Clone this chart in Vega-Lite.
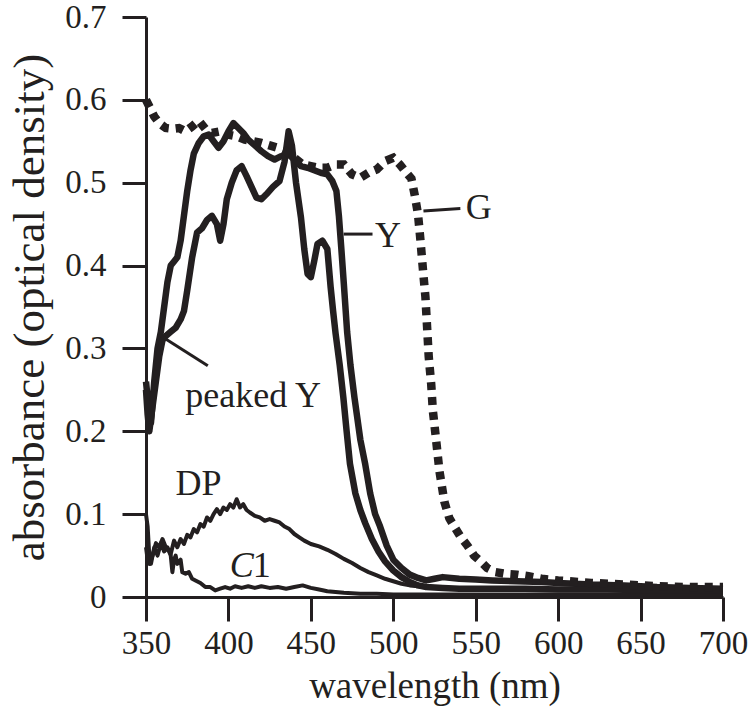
{
  "$schema": "https://vega.github.io/schema/vega-lite/v6.json",
  "width": 577,
  "height": 580,
  "autosize": {"type": "none"},
  "padding": {"left": 146, "top": 17, "right": 27, "bottom": 114},
  "background": "white",
  "datasets": {
    "spectra": [
      {"series": "G", "nm": 350, "a": 0.600}, {"series": "G", "nm": 352, "a": 0.592}, {"series": "G", "nm": 355, "a": 0.580}, {"series": "G", "nm": 358, "a": 0.572}, {"series": "G", "nm": 362, "a": 0.566}, {"series": "G", "nm": 366, "a": 0.565}, {"series": "G", "nm": 370, "a": 0.566}, {"series": "G", "nm": 374, "a": 0.562}, {"series": "G", "nm": 378, "a": 0.568}, {"series": "G", "nm": 382, "a": 0.575}, {"series": "G", "nm": 386, "a": 0.565}, {"series": "G", "nm": 390, "a": 0.560}, {"series": "G", "nm": 395, "a": 0.562}, {"series": "G", "nm": 400, "a": 0.558}, {"series": "G", "nm": 405, "a": 0.556}, {"series": "G", "nm": 410, "a": 0.552}, {"series": "G", "nm": 415, "a": 0.550}, {"series": "G", "nm": 420, "a": 0.548}, {"series": "G", "nm": 425, "a": 0.545}, {"series": "G", "nm": 430, "a": 0.542}, {"series": "G", "nm": 435, "a": 0.538}, {"series": "G", "nm": 440, "a": 0.530}, {"series": "G", "nm": 445, "a": 0.522}, {"series": "G", "nm": 450, "a": 0.520}, {"series": "G", "nm": 455, "a": 0.518}, {"series": "G", "nm": 460, "a": 0.518}, {"series": "G", "nm": 465, "a": 0.522}, {"series": "G", "nm": 470, "a": 0.522}, {"series": "G", "nm": 475, "a": 0.510}, {"series": "G", "nm": 480, "a": 0.506}, {"series": "G", "nm": 485, "a": 0.512}, {"series": "G", "nm": 490, "a": 0.516}, {"series": "G", "nm": 495, "a": 0.526}, {"series": "G", "nm": 500, "a": 0.530}, {"series": "G", "nm": 504, "a": 0.522}, {"series": "G", "nm": 508, "a": 0.512}, {"series": "G", "nm": 511, "a": 0.505}, {"series": "G", "nm": 513, "a": 0.485}, {"series": "G", "nm": 515, "a": 0.462}, {"series": "G", "nm": 516.5, "a": 0.430}, {"series": "G", "nm": 518, "a": 0.395}, {"series": "G", "nm": 519.5, "a": 0.362}, {"series": "G", "nm": 520.5, "a": 0.326}, {"series": "G", "nm": 521.5, "a": 0.290}, {"series": "G", "nm": 523, "a": 0.257}, {"series": "G", "nm": 524, "a": 0.225}, {"series": "G", "nm": 526, "a": 0.189}, {"series": "G", "nm": 528, "a": 0.152}, {"series": "G", "nm": 531, "a": 0.115}, {"series": "G", "nm": 534, "a": 0.095}, {"series": "G", "nm": 537, "a": 0.085}, {"series": "G", "nm": 541, "a": 0.072}, {"series": "G", "nm": 545, "a": 0.062}, {"series": "G", "nm": 549, "a": 0.050}, {"series": "G", "nm": 553, "a": 0.043}, {"series": "G", "nm": 557, "a": 0.035}, {"series": "G", "nm": 562, "a": 0.030}, {"series": "G", "nm": 568, "a": 0.028}, {"series": "G", "nm": 575, "a": 0.027}, {"series": "G", "nm": 582, "a": 0.025}, {"series": "G", "nm": 590, "a": 0.022}, {"series": "G", "nm": 600, "a": 0.020}, {"series": "G", "nm": 620, "a": 0.017}, {"series": "G", "nm": 640, "a": 0.015}, {"series": "G", "nm": 660, "a": 0.013}, {"series": "G", "nm": 680, "a": 0.012}, {"series": "G", "nm": 700, "a": 0.012},

      {"series": "Y", "nm": 350, "a": 0.26}, {"series": "Y", "nm": 351.5, "a": 0.23}, {"series": "Y", "nm": 353, "a": 0.21}, {"series": "Y", "nm": 355, "a": 0.26}, {"series": "Y", "nm": 357, "a": 0.30}, {"series": "Y", "nm": 359, "a": 0.32}, {"series": "Y", "nm": 361, "a": 0.35}, {"series": "Y", "nm": 363, "a": 0.38}, {"series": "Y", "nm": 365, "a": 0.40}, {"series": "Y", "nm": 367, "a": 0.405}, {"series": "Y", "nm": 369, "a": 0.41}, {"series": "Y", "nm": 371, "a": 0.43}, {"series": "Y", "nm": 373, "a": 0.46}, {"series": "Y", "nm": 375, "a": 0.49}, {"series": "Y", "nm": 377, "a": 0.515}, {"series": "Y", "nm": 379, "a": 0.535}, {"series": "Y", "nm": 382, "a": 0.548}, {"series": "Y", "nm": 385, "a": 0.556}, {"series": "Y", "nm": 388, "a": 0.558}, {"series": "Y", "nm": 391, "a": 0.55}, {"series": "Y", "nm": 394, "a": 0.542}, {"series": "Y", "nm": 397, "a": 0.55}, {"series": "Y", "nm": 400, "a": 0.562}, {"series": "Y", "nm": 403, "a": 0.572}, {"series": "Y", "nm": 406, "a": 0.566}, {"series": "Y", "nm": 409, "a": 0.56}, {"series": "Y", "nm": 412, "a": 0.552}, {"series": "Y", "nm": 416, "a": 0.545}, {"series": "Y", "nm": 420, "a": 0.538}, {"series": "Y", "nm": 424, "a": 0.532}, {"series": "Y", "nm": 428, "a": 0.528}, {"series": "Y", "nm": 432, "a": 0.532}, {"series": "Y", "nm": 436, "a": 0.535}, {"series": "Y", "nm": 440, "a": 0.528}, {"series": "Y", "nm": 444, "a": 0.52}, {"series": "Y", "nm": 448, "a": 0.518}, {"series": "Y", "nm": 452, "a": 0.515}, {"series": "Y", "nm": 456, "a": 0.512}, {"series": "Y", "nm": 460, "a": 0.51}, {"series": "Y", "nm": 463, "a": 0.502}, {"series": "Y", "nm": 465.5, "a": 0.49}, {"series": "Y", "nm": 467, "a": 0.46}, {"series": "Y", "nm": 468.5, "a": 0.42}, {"series": "Y", "nm": 470, "a": 0.378}, {"series": "Y", "nm": 472, "a": 0.32}, {"series": "Y", "nm": 474, "a": 0.28}, {"series": "Y", "nm": 476.5, "a": 0.24}, {"series": "Y", "nm": 480, "a": 0.19}, {"series": "Y", "nm": 483, "a": 0.16}, {"series": "Y", "nm": 486, "a": 0.125}, {"series": "Y", "nm": 489, "a": 0.10}, {"series": "Y", "nm": 492, "a": 0.085}, {"series": "Y", "nm": 496, "a": 0.062}, {"series": "Y", "nm": 500, "a": 0.045}, {"series": "Y", "nm": 505, "a": 0.035}, {"series": "Y", "nm": 510, "a": 0.027}, {"series": "Y", "nm": 515, "a": 0.023}, {"series": "Y", "nm": 520, "a": 0.02}, {"series": "Y", "nm": 525, "a": 0.022}, {"series": "Y", "nm": 530, "a": 0.024}, {"series": "Y", "nm": 540, "a": 0.022}, {"series": "Y", "nm": 550, "a": 0.021}, {"series": "Y", "nm": 560, "a": 0.020}, {"series": "Y", "nm": 575, "a": 0.019}, {"series": "Y", "nm": 590, "a": 0.018}, {"series": "Y", "nm": 600, "a": 0.017}, {"series": "Y", "nm": 620, "a": 0.015}, {"series": "Y", "nm": 640, "a": 0.014}, {"series": "Y", "nm": 660, "a": 0.012}, {"series": "Y", "nm": 680, "a": 0.011}, {"series": "Y", "nm": 700, "a": 0.010},

      {"series": "peaked Y", "nm": 350, "a": 0.25}, {"series": "peaked Y", "nm": 351, "a": 0.22}, {"series": "peaked Y", "nm": 352, "a": 0.20}, {"series": "peaked Y", "nm": 354, "a": 0.23}, {"series": "peaked Y", "nm": 356, "a": 0.26}, {"series": "peaked Y", "nm": 358, "a": 0.29}, {"series": "peaked Y", "nm": 360, "a": 0.31}, {"series": "peaked Y", "nm": 362, "a": 0.315}, {"series": "peaked Y", "nm": 365, "a": 0.32}, {"series": "peaked Y", "nm": 368, "a": 0.325}, {"series": "peaked Y", "nm": 371, "a": 0.335}, {"series": "peaked Y", "nm": 373, "a": 0.345}, {"series": "peaked Y", "nm": 375, "a": 0.37}, {"series": "peaked Y", "nm": 378, "a": 0.41}, {"series": "peaked Y", "nm": 381, "a": 0.44}, {"series": "peaked Y", "nm": 384, "a": 0.445}, {"series": "peaked Y", "nm": 387, "a": 0.455}, {"series": "peaked Y", "nm": 390, "a": 0.46}, {"series": "peaked Y", "nm": 393, "a": 0.45}, {"series": "peaked Y", "nm": 395, "a": 0.43}, {"series": "peaked Y", "nm": 397, "a": 0.45}, {"series": "peaked Y", "nm": 399, "a": 0.48}, {"series": "peaked Y", "nm": 402, "a": 0.50}, {"series": "peaked Y", "nm": 405, "a": 0.515}, {"series": "peaked Y", "nm": 408, "a": 0.52}, {"series": "peaked Y", "nm": 411, "a": 0.508}, {"series": "peaked Y", "nm": 414, "a": 0.495}, {"series": "peaked Y", "nm": 417, "a": 0.482}, {"series": "peaked Y", "nm": 420, "a": 0.48}, {"series": "peaked Y", "nm": 423, "a": 0.486}, {"series": "peaked Y", "nm": 427, "a": 0.495}, {"series": "peaked Y", "nm": 431, "a": 0.502}, {"series": "peaked Y", "nm": 434, "a": 0.525}, {"series": "peaked Y", "nm": 436.5, "a": 0.562}, {"series": "peaked Y", "nm": 438.5, "a": 0.545}, {"series": "peaked Y", "nm": 441, "a": 0.50}, {"series": "peaked Y", "nm": 444, "a": 0.458}, {"series": "peaked Y", "nm": 446, "a": 0.42}, {"series": "peaked Y", "nm": 448, "a": 0.39}, {"series": "peaked Y", "nm": 450, "a": 0.386}, {"series": "peaked Y", "nm": 452, "a": 0.405}, {"series": "peaked Y", "nm": 454, "a": 0.426}, {"series": "peaked Y", "nm": 457, "a": 0.43}, {"series": "peaked Y", "nm": 460, "a": 0.42}, {"series": "peaked Y", "nm": 462, "a": 0.374}, {"series": "peaked Y", "nm": 463.5, "a": 0.345}, {"series": "peaked Y", "nm": 465, "a": 0.318}, {"series": "peaked Y", "nm": 467.5, "a": 0.28}, {"series": "peaked Y", "nm": 469.7, "a": 0.241}, {"series": "peaked Y", "nm": 471.7, "a": 0.20}, {"series": "peaked Y", "nm": 473.7, "a": 0.161}, {"series": "peaked Y", "nm": 477, "a": 0.125}, {"series": "peaked Y", "nm": 480, "a": 0.105}, {"series": "peaked Y", "nm": 483, "a": 0.089}, {"series": "peaked Y", "nm": 487, "a": 0.07}, {"series": "peaked Y", "nm": 491, "a": 0.055}, {"series": "peaked Y", "nm": 495, "a": 0.043}, {"series": "peaked Y", "nm": 500, "a": 0.032}, {"series": "peaked Y", "nm": 505, "a": 0.024}, {"series": "peaked Y", "nm": 510, "a": 0.018}, {"series": "peaked Y", "nm": 515, "a": 0.014}, {"series": "peaked Y", "nm": 520, "a": 0.012}, {"series": "peaked Y", "nm": 530, "a": 0.011}, {"series": "peaked Y", "nm": 540, "a": 0.010}, {"series": "peaked Y", "nm": 560, "a": 0.010}, {"series": "peaked Y", "nm": 580, "a": 0.010}, {"series": "peaked Y", "nm": 600, "a": 0.009}, {"series": "peaked Y", "nm": 630, "a": 0.009}, {"series": "peaked Y", "nm": 660, "a": 0.008}, {"series": "peaked Y", "nm": 700, "a": 0.008},

      {"series": "DP", "nm": 350, "a": 0.10}, {"series": "DP", "nm": 351, "a": 0.085}, {"series": "DP", "nm": 352, "a": 0.05}, {"series": "DP", "nm": 353, "a": 0.04}, {"series": "DP", "nm": 355, "a": 0.06}, {"series": "DP", "nm": 357, "a": 0.05}, {"series": "DP", "nm": 359, "a": 0.065}, {"series": "DP", "nm": 361, "a": 0.055}, {"series": "DP", "nm": 363, "a": 0.06}, {"series": "DP", "nm": 365, "a": 0.052}, {"series": "DP", "nm": 367, "a": 0.068}, {"series": "DP", "nm": 369, "a": 0.06}, {"series": "DP", "nm": 371, "a": 0.07}, {"series": "DP", "nm": 373, "a": 0.064}, {"series": "DP", "nm": 375, "a": 0.075}, {"series": "DP", "nm": 377, "a": 0.072}, {"series": "DP", "nm": 379, "a": 0.082}, {"series": "DP", "nm": 381, "a": 0.078}, {"series": "DP", "nm": 383, "a": 0.088}, {"series": "DP", "nm": 385, "a": 0.085}, {"series": "DP", "nm": 387, "a": 0.096}, {"series": "DP", "nm": 389, "a": 0.092}, {"series": "DP", "nm": 391, "a": 0.10}, {"series": "DP", "nm": 393, "a": 0.106}, {"series": "DP", "nm": 395, "a": 0.10}, {"series": "DP", "nm": 397, "a": 0.108}, {"series": "DP", "nm": 399, "a": 0.105}, {"series": "DP", "nm": 401, "a": 0.112}, {"series": "DP", "nm": 403, "a": 0.108}, {"series": "DP", "nm": 405, "a": 0.118}, {"series": "DP", "nm": 407, "a": 0.108}, {"series": "DP", "nm": 409, "a": 0.112}, {"series": "DP", "nm": 411, "a": 0.105}, {"series": "DP", "nm": 413, "a": 0.102}, {"series": "DP", "nm": 416, "a": 0.098}, {"series": "DP", "nm": 419, "a": 0.096}, {"series": "DP", "nm": 422, "a": 0.092}, {"series": "DP", "nm": 425, "a": 0.094}, {"series": "DP", "nm": 428, "a": 0.092}, {"series": "DP", "nm": 431, "a": 0.09}, {"series": "DP", "nm": 434, "a": 0.085}, {"series": "DP", "nm": 437, "a": 0.082}, {"series": "DP", "nm": 440, "a": 0.076}, {"series": "DP", "nm": 443, "a": 0.072}, {"series": "DP", "nm": 446, "a": 0.068}, {"series": "DP", "nm": 450, "a": 0.064}, {"series": "DP", "nm": 455, "a": 0.061}, {"series": "DP", "nm": 460, "a": 0.057}, {"series": "DP", "nm": 465, "a": 0.052}, {"series": "DP", "nm": 470, "a": 0.046}, {"series": "DP", "nm": 475, "a": 0.041}, {"series": "DP", "nm": 480, "a": 0.035}, {"series": "DP", "nm": 485, "a": 0.030}, {"series": "DP", "nm": 490, "a": 0.026}, {"series": "DP", "nm": 495, "a": 0.022}, {"series": "DP", "nm": 500, "a": 0.019}, {"series": "DP", "nm": 505, "a": 0.016}, {"series": "DP", "nm": 510, "a": 0.014}, {"series": "DP", "nm": 520, "a": 0.012}, {"series": "DP", "nm": 530, "a": 0.011}, {"series": "DP", "nm": 550, "a": 0.010}, {"series": "DP", "nm": 580, "a": 0.010}, {"series": "DP", "nm": 620, "a": 0.009}, {"series": "DP", "nm": 660, "a": 0.009}, {"series": "DP", "nm": 700, "a": 0.008},

      {"series": "C1", "nm": 350, "a": 0.06}, {"series": "C1", "nm": 351, "a": 0.045}, {"series": "C1", "nm": 352, "a": 0.04}, {"series": "C1", "nm": 354, "a": 0.05}, {"series": "C1", "nm": 356, "a": 0.065}, {"series": "C1", "nm": 358, "a": 0.06}, {"series": "C1", "nm": 360, "a": 0.07}, {"series": "C1", "nm": 362, "a": 0.06}, {"series": "C1", "nm": 364, "a": 0.055}, {"series": "C1", "nm": 365, "a": 0.05}, {"series": "C1", "nm": 366, "a": 0.03}, {"series": "C1", "nm": 367, "a": 0.045}, {"series": "C1", "nm": 368, "a": 0.05}, {"series": "C1", "nm": 369, "a": 0.04}, {"series": "C1", "nm": 371, "a": 0.045}, {"series": "C1", "nm": 372, "a": 0.03}, {"series": "C1", "nm": 374, "a": 0.028}, {"series": "C1", "nm": 376, "a": 0.03}, {"series": "C1", "nm": 378, "a": 0.022}, {"series": "C1", "nm": 380, "a": 0.02}, {"series": "C1", "nm": 383, "a": 0.017}, {"series": "C1", "nm": 386, "a": 0.012}, {"series": "C1", "nm": 389, "a": 0.012}, {"series": "C1", "nm": 392, "a": 0.008}, {"series": "C1", "nm": 395, "a": 0.01}, {"series": "C1", "nm": 398, "a": 0.012}, {"series": "C1", "nm": 401, "a": 0.01}, {"series": "C1", "nm": 404, "a": 0.013}, {"series": "C1", "nm": 408, "a": 0.011}, {"series": "C1", "nm": 412, "a": 0.013}, {"series": "C1", "nm": 416, "a": 0.011}, {"series": "C1", "nm": 420, "a": 0.013}, {"series": "C1", "nm": 425, "a": 0.011}, {"series": "C1", "nm": 430, "a": 0.012}, {"series": "C1", "nm": 435, "a": 0.01}, {"series": "C1", "nm": 440, "a": 0.012}, {"series": "C1", "nm": 445, "a": 0.014}, {"series": "C1", "nm": 450, "a": 0.011}, {"series": "C1", "nm": 455, "a": 0.009}, {"series": "C1", "nm": 460, "a": 0.007}, {"series": "C1", "nm": 470, "a": 0.005}, {"series": "C1", "nm": 480, "a": 0.004}, {"series": "C1", "nm": 490, "a": 0.004}, {"series": "C1", "nm": 500, "a": 0.003}, {"series": "C1", "nm": 520, "a": 0.003}, {"series": "C1", "nm": 550, "a": 0.003}, {"series": "C1", "nm": 600, "a": 0.003}, {"series": "C1", "nm": 650, "a": 0.003}, {"series": "C1", "nm": 700, "a": 0.003}
    ],
    "leaders": [
      {"nm": 469.9, "a": 0.438, "nm2": 487.4, "a2": 0.438},
      {"nm": 518.3, "a": 0.466, "nm2": 540.7, "a2": 0.469},
      {"nm": 359.1, "a": 0.315, "nm2": 387.5, "a2": 0.279}
    ],
    "labels": [
      {"text": "G", "nm": 551.9, "a": 0.4565, "style": "normal"},
      {"text": "Y", "nm": 496.8, "a": 0.422, "style": "normal"},
      {"text": "peaked Y", "nm": 415.0, "a": 0.229, "style": "normal"},
      {"text": "DP", "nm": 381.8, "a": 0.123, "style": "normal"},
      {"text": "C", "nm": 408.1, "a": 0.024, "style": "italic"},
      {"text": "1", "nm": 420.2, "a": 0.024, "style": "normal"}
    ]
  },
  "layer": [
    {
      "data": {"name": "spectra"},
      "transform": [{"filter": "datum.series === 'DP' || datum.series === 'C1'"}],
      "mark": {"type": "line", "color": "#231f20", "strokeWidth": 4, "strokeJoin": "round"},
      "encoding": {
        "x": {"field": "nm", "type": "quantitative", "scale": {"domain": [350, 700], "nice": false, "zero": false},
          "axis": {"values": [350, 400, 450, 500, 550, 600, 650, 700], "title": "wavelength (nm)", "labelFlush": false, "labelOverlap": false, "labelPadding": 6, "titlePadding": 8}},
        "y": {"field": "a", "type": "quantitative", "scale": {"domain": [0, 0.7], "nice": false},
          "axis": {"values": [0, 0.1, 0.2, 0.3, 0.4, 0.5, 0.6, 0.7], "title": "absorbance (optical density)", "titleFontSize": 45, "labelExpr": "datum.value == 0 ? '0' : format(datum.value, '.1f')", "labelFlush": false, "labelOverlap": false, "labelPadding": 16, "titlePadding": 12}},
        "detail": {"field": "series"}
      }
    },
    {
      "data": {"name": "spectra"},
      "transform": [{"filter": "datum.series === 'Y' || datum.series === 'peaked Y'"}],
      "mark": {"type": "line", "color": "#231f20", "strokeWidth": 6.5, "strokeJoin": "round"},
      "encoding": {
        "x": {"field": "nm", "type": "quantitative"},
        "y": {"field": "a", "type": "quantitative"},
        "detail": {"field": "series"}
      }
    },
    {
      "data": {"name": "spectra"},
      "transform": [{"filter": "datum.series === 'G'"}],
      "mark": {"type": "line", "color": "#231f20", "strokeWidth": 8.5, "strokeDash": [8, 7], "strokeCap": "butt"},
      "encoding": {
        "x": {"field": "nm", "type": "quantitative"},
        "y": {"field": "a", "type": "quantitative"}
      }
    },
    {
      "data": {"name": "leaders"},
      "mark": {"type": "rule", "color": "#231f20", "strokeWidth": 3},
      "encoding": {
        "x": {"field": "nm", "type": "quantitative"},
        "y": {"field": "a", "type": "quantitative"},
        "x2": {"field": "nm2"},
        "y2": {"field": "a2"}
      }
    },
    {
      "data": {"name": "labels"},
      "transform": [{"filter": "datum.style === 'normal'"}],
      "mark": {"type": "text", "font": "Liberation Serif", "fontSize": 36, "color": "#231f20", "align": "center", "baseline": "alphabetic"},
      "encoding": {
        "x": {"field": "nm", "type": "quantitative"},
        "y": {"field": "a", "type": "quantitative"},
        "text": {"field": "text"}
      }
    },
    {
      "data": {"name": "labels"},
      "transform": [{"filter": "datum.style === 'italic'"}],
      "mark": {"type": "text", "font": "Liberation Serif", "fontSize": 36, "fontStyle": "italic", "color": "#231f20", "align": "center", "baseline": "alphabetic"},
      "encoding": {
        "x": {"field": "nm", "type": "quantitative"},
        "y": {"field": "a", "type": "quantitative"},
        "text": {"field": "text"}
      }
    }
  ],
  "config": {
    "view": {"stroke": null},
    "axis": {
      "grid": false,
      "domainColor": "#231f20", "domainWidth": 3,
      "tickColor": "#231f20", "tickWidth": 3, "tickSize": 24,
      "labelFont": "Liberation Serif", "labelFontSize": 33, "labelColor": "#231f20",
      "titleFont": "Liberation Serif", "titleFontSize": 37, "titleFontWeight": "normal", "titleColor": "#231f20"
    }
  }
}
